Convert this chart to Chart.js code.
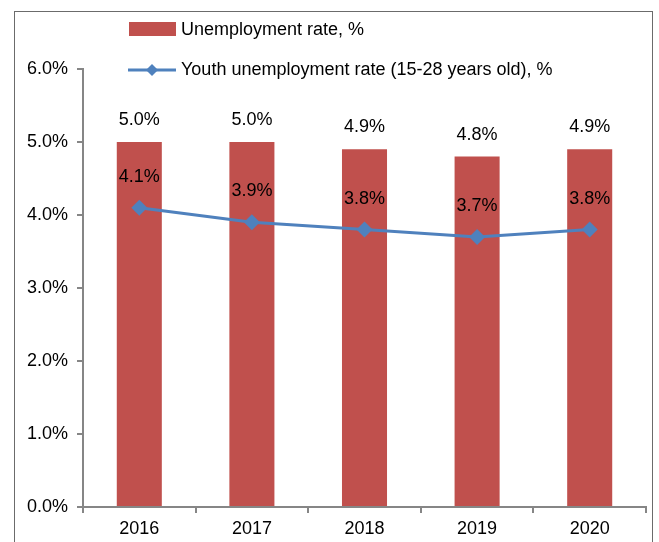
<!DOCTYPE html>
<html>
<head>
<meta charset="utf-8">
<script src="https://cdn.jsdelivr.net/npm/chart.js@4/dist/chart.umd.min.js"></script>
<style>
  html, body { margin: 0; padding: 0; background: #fff; }
  #wrap { width: 659px; height: 542px; position: relative; }
</style>
</head>
<body>
<div id="wrap"><canvas id="myChart"></canvas></div>
<script>
// data
const years = ["2016", "2017", "2018", "2019", "2020"];
const unemployment = [5.0, 5.0, 4.9, 4.8, 4.9];
const youthUnemployment = [4.1, 3.9, 3.8, 3.7, 3.8];
const yTicks = [0, 1, 2, 3, 4, 5, 6];

const barColor = "#C0504D";
const lineColor = "#4F81BD";
const axisColor = "#868686";
const fontFam = "'Liberation Sans', Arial, sans-serif";

Chart.defaults.font.family = fontFam;
Chart.defaults.font.size = 18;
Chart.defaults.color = "#000";

function pct(v) {
    return v.toFixed(1) + "%";
}

// frame round the whole chart, like the excel chart area
const framePlugin = {
    id: "frame",
    beforeDraw(chart) {
        const ctx = chart.ctx;
        ctx.save();
        ctx.strokeStyle = "#6b6b6b";
        ctx.lineWidth = 1;
        ctx.strokeRect(14.5, 11.5, 638, 560);
        ctx.restore();
    }
};

// value labels over the bars and the points
const labelPlugin = {
    id: "valueLabels",
    afterDatasetsDraw(chart) {
        const ctx = chart.ctx;
        ctx.save();
        ctx.font = "18px " + fontFam;
        ctx.fillStyle = "#000";
        ctx.textAlign = "center";
        ctx.textBaseline = "middle";
        chart.data.datasets.forEach((ds, i) => {
            const meta = chart.getDatasetMeta(i);
            const off = ds.type === "line" ? 31 : 22;
            meta.data.forEach((el, j) => {
                ctx.fillText(pct(ds.data[j]), el.x, el.y - off);
            });
        });
        ctx.restore();
    }
};

// two row legend, left aligned like the original
const legendPlugin = {
    id: "stackLegend",
    afterDraw(chart) {
        const ctx = chart.ctx;
        const ds = chart.data.datasets;
        ctx.save();
        ctx.font = "18px " + fontFam;
        ctx.fillStyle = "#000";
        ctx.textBaseline = "middle";
        ctx.textAlign = "left";
        // bars
        ctx.fillStyle = ds[1].backgroundColor;
        ctx.fillRect(129, 22, 47, 14);
        ctx.fillStyle = "#000";
        ctx.fillText(ds[1].label, 181, 30);
        // line
        ctx.strokeStyle = ds[0].borderColor;
        ctx.lineWidth = 3;
        ctx.beginPath();
        ctx.moveTo(128, 70);
        ctx.lineTo(176, 70);
        ctx.stroke();
        ctx.fillStyle = ds[0].borderColor;
        ctx.beginPath();
        ctx.moveTo(152, 64);
        ctx.lineTo(158, 70);
        ctx.lineTo(152, 76);
        ctx.lineTo(146, 70);
        ctx.closePath();
        ctx.fill();
        ctx.fillStyle = "#000";
        ctx.fillText(ds[0].label, 181, 70);
        ctx.restore();
    }
};

const chart = new Chart(document.getElementById("myChart").getContext("2d"), {
    data: {
        labels: years,
        datasets: [
            {
                type: "line",
                label: "Youth unemployment rate (15-28 years old), %",
                data: youthUnemployment,
                borderColor: lineColor,
                backgroundColor: lineColor,
                borderWidth: 3,
                pointStyle: "rectRot",
                pointRadius: 8,
                pointBorderWidth: 0,
                tension: 0,
                order: 0
            },
            {
                type: "bar",
                label: "Unemployment rate, %",
                data: unemployment,
                backgroundColor: barColor,
                barPercentage: 0.4,
                categoryPercentage: 1,
                order: 1
            }
        ]
    },
    options: {
        responsive: true,
        maintainAspectRatio: false,
        animation: false,
        layout: { padding: { left: 27, right: 13, top: 69, bottom: 0 } },
        plugins: {
            legend: { display: false },
            tooltip: { enabled: false }
        },
        scales: {
            x: {
                offset: true,
                grid: {
                    offset: true,
                    drawOnChartArea: false,
                    drawTicks: true,
                    tickLength: 6,
                    color: axisColor,
                    lineWidth: 2
                },
                border: { display: true, color: axisColor, width: 2 },
                ticks: { padding: 5, color: "#000" },
                afterFit: s => { s.height = 35; }
            },
            y: {
                min: 0,
                max: 6,
                afterBuildTicks: s => { s.ticks = yTicks.map(v => ({ value: v })); },
                grid: {
                    drawOnChartArea: false,
                    drawTicks: true,
                    tickLength: 6,
                    color: axisColor,
                    lineWidth: 2
                },
                border: { display: true, color: axisColor, width: 2 },
                ticks: { padding: 9, color: "#000", callback: v => pct(v) },
                afterFit: s => { s.width = 56; }
            }
        }
    },
    plugins: [framePlugin, labelPlugin, legendPlugin]
});
</script>
</body>
</html>
